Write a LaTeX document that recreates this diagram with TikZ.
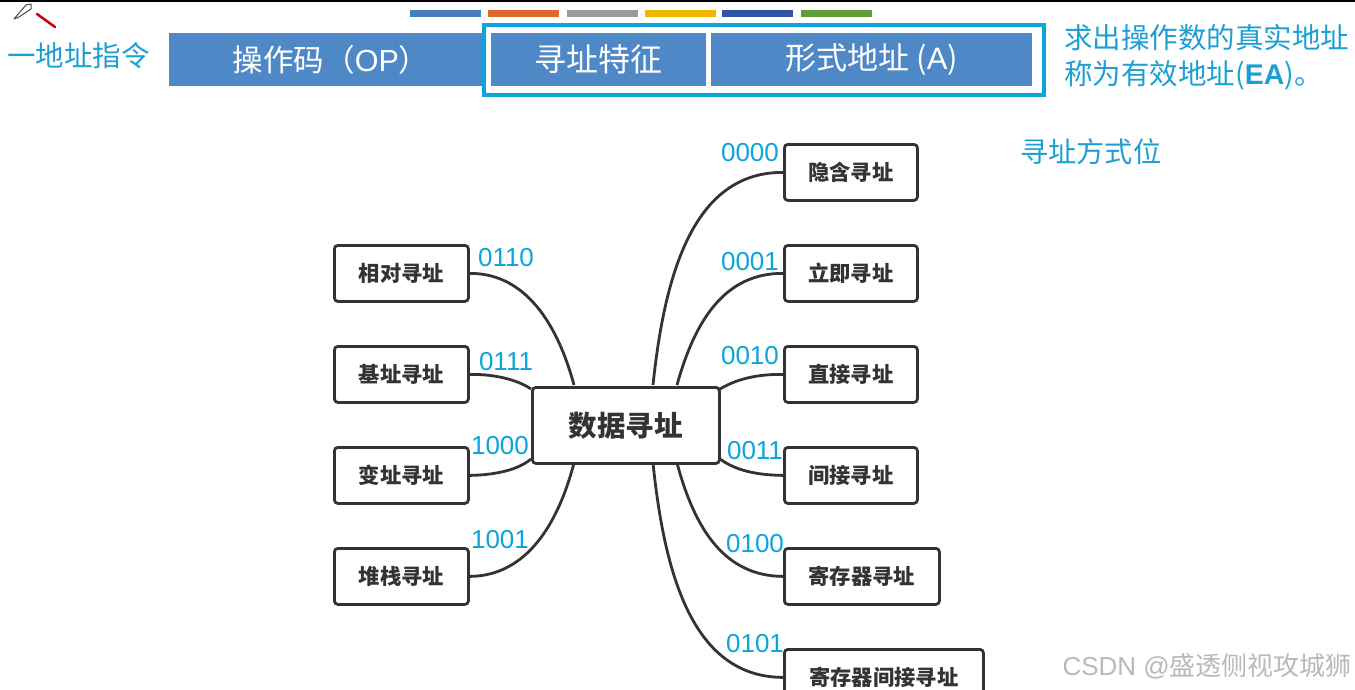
\documentclass[tikz,border=0pt]{standalone}
\usepackage{fontspec}
\setmainfont{Noto Sans CJK SC}
\newfontfamily\latinf{Liberation Sans}
\usetikzlibrary{calc}
\definecolor{barblue}{HTML}{4E88C7}
\definecolor{frameblue}{HTML}{0CA4DC}
\definecolor{textblue}{HTML}{1C9FD2}
\definecolor{ink}{HTML}{333333}
\definecolor{tabA}{HTML}{4A7EBB}
\definecolor{tabB}{HTML}{E0682A}
\definecolor{tabC}{HTML}{9A9A9A}
\definecolor{tabD}{HTML}{F2B800}
\definecolor{tabE}{HTML}{2F55A5}
\definecolor{tabF}{HTML}{5F9E3A}
\tikzset{
  x=1pt,y=-1pt,
  bar/.style={fill=barblue,draw=none,text=white,anchor=north west,inner sep=0pt},
  tab/.style={fill=#1,draw=none,minimum width=71pt,minimum height=7pt,inner sep=0pt,anchor=west},
  leaf/.style={draw=ink,line width=2.8pt,rounded corners=3.5pt,fill=white,text=ink,minimum height=56pt,inner sep=0pt,anchor=north west,font=\fontsize{21.3}{23}\selectfont\bfseries},
  hub/.style={leaf,font=\fontsize{28.5}{30}\selectfont\bfseries,minimum height=76pt,minimum width=187pt},
  link/.style={draw=ink,line width=2.8pt},
  bin/.style={text=frameblue,inner sep=0pt,font=\latinf\fontsize{26}{28}\selectfont},
  note/.style={text=textblue,inner sep=0pt,anchor=west},
}
\begin{document}
\begin{tikzpicture}
\useasboundingbox (0,0) rectangle (1355,689);
\clip (0,0) rectangle (1355,689);
\fill[white] (0,0) rectangle (1355,689);
\fill[black] (0,0) rectangle (1355,1.5);
% pencil and red stroke
\draw[gray!60!black,line width=1pt,line join=round] (14,19) -- (26,5) -- (31,4) -- (31,9) -- (19,17) -- cycle;
\draw[red!80!black,line width=2.5pt,line cap=round] (37,14) -- (55,27);
% colour tabs
\node[tab=tabA] (t1) at (410,13) {};
\node[tab=tabB] (t2) at (488,13) {};
\node[tab=tabC] (t3) at (567,13) {};
\node[tab=tabD] (t4) at (645,13) {};
\node[tab=tabE] (t5) at (722,13) {};
\node[tab=tabF] (t6) at (801,13) {};
% instruction bar
\node[bar,minimum width=313pt,minimum height=53pt,font=\fontsize{30.5}{32}\selectfont] (op) at (169,33) {\raisebox{-2pt}{\hspace*{11pt}操作码（{\latinf OP}）}};
\node[bar,minimum width=215pt,minimum height=53pt,font=\fontsize{32}{34}\selectfont] (ft) at (491,33) {\raisebox{-2.5pt}{寻址特征}};
\node[bar,minimum width=321pt,minimum height=53pt,font=\fontsize{31}{33}\selectfont] (fa) at (711,33) {\raisebox{-3pt}{形式地址 ({\latinf A})}};
\draw[frameblue,line width=4.5pt] (484,25) rectangle (1044,95);
% notes
\node[note,font=\fontsize{28.5}{32}\selectfont] (n1) at (7,56) {一地址指令};
\node[note,align=left,font=\fontsize{28.5}{36}\selectfont] (n2) at (1064,57.5) {求出操作数的真实地址\\称为有效地址({\latinf\bfseries EA})。};
\node[note,font=\fontsize{28.2}{32}\selectfont] (n3) at (1020,152) {寻址方式位};
% hub
\node[hub] (c) at (531,386) {数据寻址};
% right leaves
\node[leaf,minimum width=133pt] (r0) at (783,143) {隐含寻址};
\node[leaf,minimum width=133pt] (r1) at (783,244) {立即寻址};
\node[leaf,minimum width=133pt] (r2) at (783,345) {直接寻址};
\node[leaf,minimum width=133pt] (r3) at (783,446) {间接寻址};
\node[leaf,minimum width=155pt] (r4) at (783,547) {寄存器寻址};
\node[leaf,minimum width=199pt] (r5) at (783,648) {寄存器间接寻址};
% left leaves
\node[leaf,minimum width=134pt] (l0) at (333,244) {相对寻址};
\node[leaf,minimum width=134pt] (l1) at (333,345) {基址寻址};
\node[leaf,minimum width=134pt] (l2) at (333,446) {变址寻址};
\node[leaf,minimum width=134pt] (l3) at (333,547) {堆栈寻址};
% connector roots on the hub
\coordinate (ca) at (653,385);
\coordinate (cb) at (677,385);
\coordinate (cc) at (720,389);
\coordinate (cd) at (720,459);
\coordinate (ce) at (677,463);
\coordinate (cf) at (653,463);
\coordinate (da) at (574,385);
\coordinate (db) at (531,389);
\coordinate (dc) at (531,459);
\coordinate (dd) at (574,463);
\draw[link] (ca) .. controls (665,270) and (695,172) .. (r0.west);
\draw[link] (cb) .. controls (695,320) and (725,273) .. (r1.west);
\draw[link] (cc) .. controls (735,380) and (755,374) .. (r2.west);
\draw[link] (cd) .. controls (735,470) and (755,475) .. (r3.west);
\draw[link] (ce) .. controls (695,530) and (725,576) .. (r4.west);
\draw[link] (cf) .. controls (665,580) and (695,677) .. (r5.west);
\draw[link] (da) .. controls (555,315) and (520,273) .. (l0.east);
\draw[link] (db) .. controls (518,380) and (495,374) .. (l1.east);
\draw[link] (dc) .. controls (518,470) and (495,475) .. (l2.east);
\draw[link] (dd) .. controls (555,535) and (520,576) .. (l3.east);
% code labels
\node[bin] (b0) at (750,153) {0000};
\node[bin] (b1) at (750,262) {0001};
\node[bin] (b2) at (750,356) {0010};
\node[bin] (b3) at (755,451) {0011};
\node[bin] (b4) at (755,544) {0100};
\node[bin] (b5) at (755,644) {0101};
\node[bin] (b6) at (506,258) {0110};
\node[bin] (b7) at (506,362) {0111};
\node[bin] (b8) at (500,446) {1000};
\node[bin] (b9) at (500,540) {1001};
% watermark
\node[text=gray!55,inner sep=0pt,anchor=east,font=\fontsize{26}{28}\selectfont] (wm) at (1352,666) {{\latinf CSDN @}盛透侧视攻城狮};
\end{tikzpicture}
\end{document}
